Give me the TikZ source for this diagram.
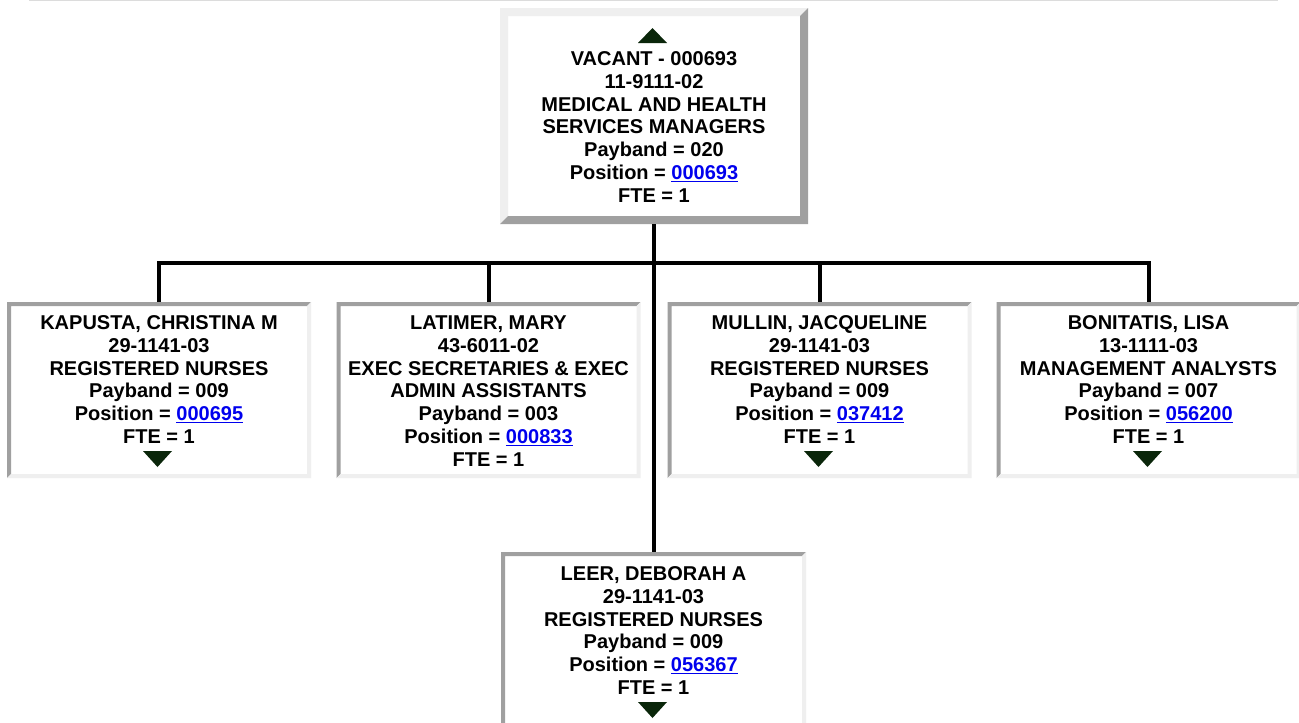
\documentclass[tikz,border=0pt]{standalone}
\usepackage{fontspec}
\setmainfont{Liberation Sans}
\usetikzlibrary{calc}
\definecolor{lightb}{HTML}{EFEFEF}
\definecolor{darkb}{HTML}{A0A0A0}
\definecolor{trigreen}{HTML}{0A260A}
\definecolor{linkblue}{HTML}{0000EE}
\definecolor{rulegray}{HTML}{DCDCDC}
\newcommand\lnk[1]{{\color{linkblue}\setbox0\hbox{#1}\rlap{\rule[-2.6pt]{\wd0}{1.6pt}}\box0}}
\newcommand\bevel[4]{%
  \fill[#3] (#1.north west) -- (#1.north east) -- ($(#1.north east)+(-#2,#2)$) -- ($(#1.north west)+(#2,#2)$) -- ($(#1.south west)+(#2,-#2)$) -- (#1.south west) -- cycle;
  \fill[#4] (#1.north east) -- (#1.south east) -- (#1.south west) -- ($(#1.south west)+(#2,-#2)$) -- ($(#1.south east)+(-#2,-#2)$) -- ($(#1.north east)+(-#2,#2)$) -- cycle;}
\begin{document}
\begin{tikzpicture}[x=1pt,y=-1pt,
  topbox/.style={rectangle, fill=white, inner sep=0pt, outer sep=0pt, minimum width=308pt, minimum height=216pt},
  kidbox/.style={rectangle, fill=white, inner sep=0pt, outer sep=0pt, minimum width=304pt, minimum height=176pt},
  botbox/.style={rectangle, fill=white, inner sep=0pt, outer sep=0pt, minimum width=305pt, minimum height=180pt},
  label/.style={anchor=north, align=center, inner sep=0pt, font=\bfseries\fontsize{20}{22.9}\selectfont},
  conn/.style={line width=4pt, black, line join=miter},
  tri/.style={fill=trigreen}]
\path[use as bounding box, fill=white] (0,0) rectangle (1299,723);
\coordinate (ruleL) at (29,0.5);
\coordinate (ruleR) at (1278,0.5);
\draw[rulegray, line width=1pt] (ruleL) -- (ruleR);

% boxes
\node[topbox] (top) at (654,116) {};
\bevel{top}{8}{lightb}{darkb}
\node[kidbox] (c1) at (159,390) {};
\node[kidbox] (c2) at (488.5,390) {};
\node[kidbox] (c3) at (819.5,390) {};
\node[kidbox] (c4) at (1148.5,390) {};
\node[botbox] (bot) at (653.5,642) {};
\foreach \n in {c1,c2,c3,c4,bot} {\bevel{\n}{4}{darkb}{lightb}}

% connectors
\coordinate (bus) at (654,263);
\draw[conn] (top.south) -- (top.south |- bot.north);
\draw[conn] (c1.north) -- (c1.north |- bus) -- (c4.north |- bus) -- (c4.north);
\draw[conn] (c2.north) -- (c2.north |- bus);
\draw[conn] (c3.north) -- (c3.north |- bus);

% texts
\node[label] (ttop) at ($(top.north)+(0,42.5)$) {\rule{0pt}{14.5pt}VACANT - 000693\\11-9111-02\\MEDICAL AND HEALTH\\SERVICES MANAGERS\\Payband = 020\\Position = \lnk{000693}\\FTE = 1};
\node[label] (t1) at ($(c1.north)+(0,12.5)$) {\rule{0pt}{14.5pt}KAPUSTA, CHRISTINA M\\29-1141-03\\REGISTERED NURSES\\Payband = 009\\Position = \lnk{000695}\\FTE = 1};
\node[label] (t2) at ($(c2.north)+(0,12.5)$) {\rule{0pt}{14.5pt}LATIMER, MARY\\43-6011-02\\EXEC SECRETARIES \& EXEC\\ADMIN ASSISTANTS\\Payband = 003\\Position = \lnk{000833}\\FTE = 1};
\node[label] (t3) at ($(c3.north)+(0,12.5)$) {\rule{0pt}{14.5pt}MULLIN, JACQUELINE\\29-1141-03\\REGISTERED NURSES\\Payband = 009\\Position = \lnk{037412}\\FTE = 1};
\node[label] (t4) at ($(c4.north)+(0,12.5)$) {\rule{0pt}{14.5pt}BONITATIS, LISA\\13-1111-03\\MANAGEMENT ANALYSTS\\Payband = 007\\Position = \lnk{056200}\\FTE = 1};
\node[label] (tb) at ($(bot.north)+(0,13.5)$) {\rule{0pt}{14.5pt}LEER, DEBORAH A\\29-1141-03\\REGISTERED NURSES\\Payband = 009\\Position = \lnk{056367}\\FTE = 1};

% triangles
\fill[tri] ($(top.north)+(-16,35)$) -- ++(29,0) -- ++(-14.5,-15) -- cycle;
\fill[tri] ($(c1.north)+(-16,149)$) -- ++(29,0) -- ++(-14.5,16) -- cycle;
\fill[tri] ($(c3.north)+(-15.5,149)$) -- ++(29,0) -- ++(-14.5,16) -- cycle;
\fill[tri] ($(c4.north)+(-15.5,149)$) -- ++(29,0) -- ++(-14.5,16) -- cycle;
\fill[tri] ($(bot.north)+(-15.5,150)$) -- ++(29,0) -- ++(-14.5,16) -- cycle;
\end{tikzpicture}
\end{document}
